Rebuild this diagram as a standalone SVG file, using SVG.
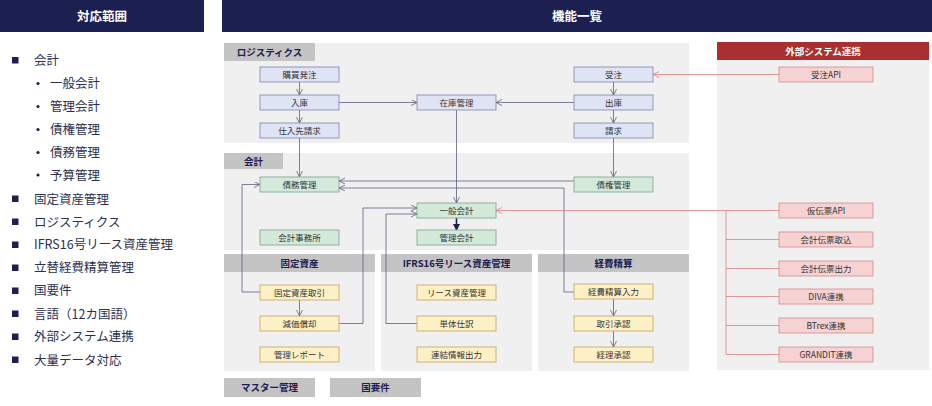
<svg xmlns="http://www.w3.org/2000/svg" width="932" height="406" viewBox="0 0 932 406">
<style>
text{font-family:"Noto Sans CJK JP","Noto Sans",sans-serif;}
.hdr{fill:#1b2050;}
.hdrt{fill:#fff;font-size:12.5px;font-weight:bold;text-anchor:middle;}
.li{fill:#2a3050;font-size:12.5px;}
.bul{fill:#1b2050;}
.panel{fill:#f0f0f0;}
.tab{fill:#c4c4c4;}
.tabt{fill:#1b2050;font-size:9.5px;font-weight:bold;text-anchor:middle;}
.nt{fill:#333;font-size:8.5px;text-anchor:middle;}
.lg{fill:#dfe3f6;stroke:#7d84a6;stroke-width:0.8;}
.ac{fill:#d3e9da;stroke:#7ba28a;stroke-width:0.8;}
.yl{fill:#fdf0c6;stroke:#c3a35c;stroke-width:0.8;}
.ex{fill:#f6d2d2;stroke:#d58a8a;stroke-width:0.8;}
.c{fill:none;stroke:#5a5f80;stroke-width:0.8;}
.r{fill:none;stroke:#d98282;stroke-width:0.8;}
</style>
<defs>
<marker id="a" markerWidth="7" markerHeight="7" refX="6" refY="3" orient="auto" markerUnits="userSpaceOnUse"><path d="M0,0 L6,3 L0,6" fill="none" stroke="#5a5f80" stroke-width="0.8"/></marker>
<marker id="ar" markerWidth="7" markerHeight="7" refX="6" refY="3" orient="auto" markerUnits="userSpaceOnUse"><path d="M0,0 L6,3 L0,6" fill="none" stroke="#d98282" stroke-width="0.8"/></marker>
<marker id="af" markerWidth="8" markerHeight="8" refX="6" refY="3.5" orient="auto" markerUnits="userSpaceOnUse"><path d="M0,0 L7,3.5 L0,7 Z" fill="#1b2050"/></marker>
</defs>

<g id="left-header"><rect class="hdr" x="0" y="0" width="204" height="32"/><text class="hdrt" x="102" y="20.5">対応範囲</text></g>
<g id="right-header"><rect class="hdr" x="222" y="0" width="710" height="32"/><text class="hdrt" x="577" y="20.5">機能一覧</text></g>

<g id="scope-list">
<rect class="bul" x="12" y="57" width="6.5" height="6.5"/><text class="li" x="34" y="64.5">会計</text>
<circle class="bul" cx="38" cy="83.5" r="1.6"/><text class="li" x="50" y="88">一般会計</text>
<circle class="bul" cx="38" cy="106.5" r="1.6"/><text class="li" x="50" y="111">管理会計</text>
<circle class="bul" cx="38" cy="129.5" r="1.6"/><text class="li" x="50" y="134">債権管理</text>
<circle class="bul" cx="38" cy="152.5" r="1.6"/><text class="li" x="50" y="157">債務管理</text>
<circle class="bul" cx="38" cy="175" r="1.6"/><text class="li" x="50" y="179.5">予算管理</text>
<rect class="bul" x="12" y="195.5" width="6.5" height="6.5"/><text class="li" x="34" y="203.5">固定資産管理</text>
<rect class="bul" x="12" y="218.5" width="6.5" height="6.5"/><text class="li" x="34" y="226.5">ロジスティクス</text>
<rect class="bul" x="12" y="241.5" width="6.5" height="6.5"/><text class="li" x="34" y="249">IFRS16号リース資産管理</text>
<rect class="bul" x="12" y="264.5" width="6.5" height="6.5"/><text class="li" x="34" y="272">立替経費精算管理</text>
<rect class="bul" x="12" y="287.5" width="6.5" height="6.5"/><text class="li" x="34" y="295">国要件</text>
<rect class="bul" x="12" y="310.5" width="6.5" height="6.5"/><text class="li" x="34" y="318.5">言語（12カ国語）</text>
<rect class="bul" x="12" y="333.5" width="6.5" height="6.5"/><text class="li" x="34" y="341">外部システム連携</text>
<rect class="bul" x="12" y="356.5" width="6.5" height="6.5"/><text class="li" x="34" y="364.5">大量データ対応</text>
</g>

<g id="panels">
<rect class="panel" x="224" y="43" width="465" height="100"/>
<rect class="tab" x="224" y="43" width="91" height="18"/><text class="tabt" x="269.5" y="55.5">ロジスティクス</text>
<rect class="panel" x="224" y="153" width="465" height="97"/>
<rect class="tab" x="224" y="153" width="59" height="16"/><text class="tabt" x="253.5" y="164.5">会計</text>
<rect class="panel" x="224" y="254" width="151" height="117"/>
<rect class="tab" x="224" y="254" width="151" height="18"/><text class="tabt" x="299.5" y="266.5">固定資産</text>
<rect class="panel" x="381" y="254" width="151" height="117"/>
<rect class="tab" x="381" y="254" width="151" height="18"/><text class="tabt" x="456.5" y="266.5">IFRS16号リース資産管理</text>
<rect class="panel" x="538" y="254" width="151" height="117"/>
<rect class="tab" x="538" y="254" width="151" height="18"/><text class="tabt" x="613.5" y="266.5">経費精算</text>
<rect class="panel" x="717" y="42" width="212" height="328"/>
<rect x="717" y="42" width="212" height="18" fill="#a9302e"/><text class="tabt" x="823" y="54.5" style="fill:#fff">外部システム連携</text>
<rect class="tab" x="224" y="378" width="91" height="19"/><text class="tabt" x="269.5" y="391">マスター管理</text>
<rect class="tab" x="330" y="378" width="91" height="19"/><text class="tabt" x="375.5" y="391">国要件</text>
</g>

<g id="connectors">
<path class="c" d="M299.5,82 V95" marker-end="url(#a)"/>
<path class="c" d="M299.5,110 V123" marker-end="url(#a)"/>
<path class="c" d="M339,102.5 H417" marker-end="url(#a)"/>
<path class="c" d="M613.5,82 V95" marker-end="url(#a)"/>
<path class="c" d="M574,102.5 H496" marker-end="url(#a)"/>
<path class="c" d="M613.5,110 V123" marker-end="url(#a)"/>
<path class="c" d="M299.5,138 V177" marker-end="url(#a)"/>
<path class="c" d="M613.5,138 V177" marker-end="url(#a)"/>
<path class="c" d="M456.5,110 V203" marker-end="url(#a)"/>
<path class="c" d="M574,181 H339" marker-end="url(#a)"/>
<path class="c" d="M574,292 H564 V188 H339" marker-end="url(#a)"/>
<path class="c" d="M260,292 H242 V184.5 H260" marker-end="url(#a)"/>
<path class="c" d="M299.5,300 V316" marker-end="url(#a)"/>
<path class="c" d="M339,323.5 H363 V208 H417" marker-end="url(#a)"/>
<path class="c" d="M417,323.5 H386 V214 H417" marker-end="url(#a)"/>
<path d="M456.5,218 V230" fill="none" stroke="#1b2050" stroke-width="1.6" marker-end="url(#af)"/>
<path class="c" d="M613.5,299 V316" marker-end="url(#a)"/>
<path class="c" d="M613.5,331 V347" marker-end="url(#a)"/>
<path class="r" d="M779,74.5 H653" marker-end="url(#ar)"/>
<path class="r" d="M779,210.5 H496" marker-end="url(#ar)"/>
<path class="r" d="M726,210.5 V354.5 M726,239.5 H779 M726,268.5 H779 M726,296.5 H779 M726,325.5 H779 M726,354.5 H779"/>
</g>

<g id="n-koubai"><rect class="lg" x="260" y="67" width="79" height="15"/><text class="nt" x="299.5" y="77.5">購買発注</text></g>
<g id="n-nyuko"><rect class="lg" x="260" y="95" width="79" height="15"/><text class="nt" x="299.5" y="105.5">入庫</text></g>
<g id="n-shiire"><rect class="lg" x="260" y="123" width="79" height="15"/><text class="nt" x="299.5" y="133.5">仕入先請求</text></g>
<g id="n-zaiko"><rect class="lg" x="417" y="95" width="79" height="15"/><text class="nt" x="456.5" y="105.5">在庫管理</text></g>
<g id="n-juchu"><rect class="lg" x="574" y="67" width="79" height="15"/><text class="nt" x="613.5" y="77.5">受注</text></g>
<g id="n-shukko"><rect class="lg" x="574" y="95" width="79" height="15"/><text class="nt" x="613.5" y="105.5">出庫</text></g>
<g id="n-seikyu"><rect class="lg" x="574" y="123" width="79" height="15"/><text class="nt" x="613.5" y="133.5">請求</text></g>

<g id="n-saimu"><rect class="ac" x="260" y="177" width="79" height="15"/><text class="nt" x="299.5" y="187.5">債務管理</text></g>
<g id="n-saiken"><rect class="ac" x="574" y="177" width="79" height="15"/><text class="nt" x="613.5" y="187.5">債権管理</text></g>
<g id="n-ippan"><rect class="ac" x="417" y="203" width="79" height="15"/><text class="nt" x="456.5" y="213.5">一般会計</text></g>
<g id="n-kanri"><rect class="ac" x="417" y="230" width="79" height="15"/><text class="nt" x="456.5" y="240.5">管理会計</text></g>
<g id="n-jimusho"><rect class="ac" x="260" y="230" width="79" height="15"/><text class="nt" x="299.5" y="240.5">会計事務所</text></g>

<g id="n-kotei"><rect class="yl" x="260" y="285" width="79" height="15"/><text class="nt" x="299.5" y="295.5">固定資産取引</text></g>
<g id="n-genka"><rect class="yl" x="260" y="316" width="79" height="15"/><text class="nt" x="299.5" y="326.5">減価償却</text></g>
<g id="n-report"><rect class="yl" x="260" y="347" width="79" height="15"/><text class="nt" x="299.5" y="357.5">管理レポート</text></g>
<g id="n-lease"><rect class="yl" x="417" y="285" width="79" height="15"/><text class="nt" x="456.5" y="295.5">リース資産管理</text></g>
<g id="n-tantai"><rect class="yl" x="417" y="316" width="79" height="15"/><text class="nt" x="456.5" y="326.5">単体仕訳</text></g>
<g id="n-renketsu"><rect class="yl" x="417" y="347" width="79" height="15"/><text class="nt" x="456.5" y="357.5">連結情報出力</text></g>
<g id="n-keihi"><rect class="yl" x="574" y="284" width="79" height="15"/><text class="nt" x="613.5" y="294.5">経費精算入力</text></g>
<g id="n-torihiki"><rect class="yl" x="574" y="316" width="79" height="15"/><text class="nt" x="613.5" y="326.5">取引承認</text></g>
<g id="n-keiri"><rect class="yl" x="574" y="347" width="79" height="15"/><text class="nt" x="613.5" y="357.5">経理承認</text></g>

<g id="n-juchuapi"><rect class="ex" x="779" y="67" width="94" height="15"/><text class="nt" x="826" y="77.5">受注API</text></g>
<g id="n-karidenpyo"><rect class="ex" x="779" y="203" width="94" height="15"/><text class="nt" x="826" y="213.5">仮伝票API</text></g>
<g id="n-torikomi"><rect class="ex" x="779" y="232" width="94" height="15"/><text class="nt" x="826" y="242.5">会計伝票取込</text></g>
<g id="n-shutsuryoku"><rect class="ex" x="779" y="261" width="94" height="15"/><text class="nt" x="826" y="271.5">会計伝票出力</text></g>
<g id="n-diva"><rect class="ex" x="779" y="289" width="94" height="15"/><text class="nt" x="826" y="299.5">DIVA連携</text></g>
<g id="n-btrex"><rect class="ex" x="779" y="318" width="94" height="15"/><text class="nt" x="826" y="328.5">BTrex連携</text></g>
<g id="n-grandit"><rect class="ex" x="779" y="347" width="94" height="15"/><text class="nt" x="826" y="357.5">GRANDIT連携</text></g>
</svg>
